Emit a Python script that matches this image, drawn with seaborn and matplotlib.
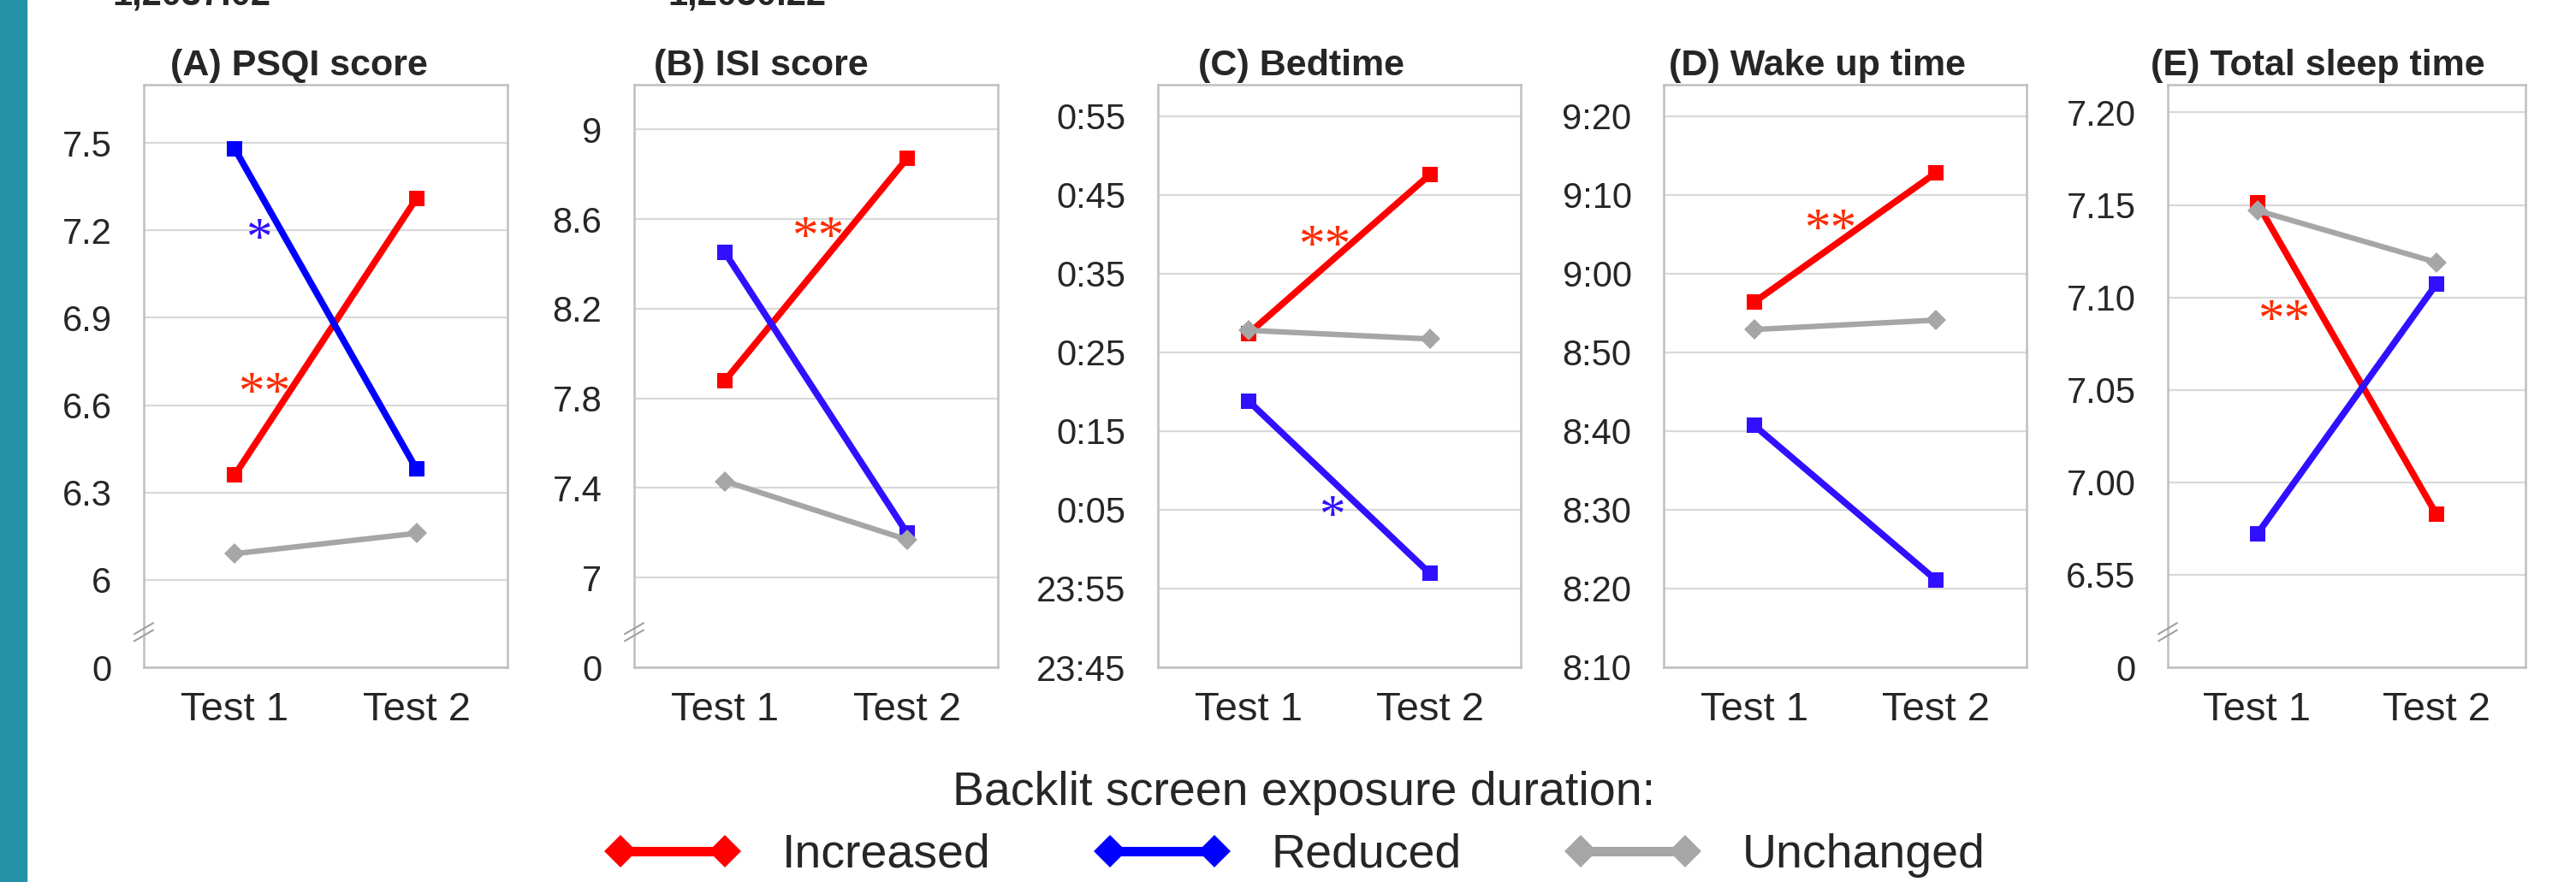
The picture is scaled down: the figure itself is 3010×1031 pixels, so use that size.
import pandas as pd
import seaborn as sns
import matplotlib.pyplot as plt
from matplotlib.lines import Line2D
from matplotlib.patches import Rectangle

# data
tests = ["Test 1", "Test 2"]
groups = ["Increased", "Reduced", "Unchanged"]

# one row per group: [Test 1, Test 2]
psqi = [[6.36, 7.31], [7.48, 6.38], [6.09, 6.16]]
isi = [[7.88, 8.87], [8.45, 7.20], [7.43, 7.17]]
bedtime = [[27.4, 47.6], [18.8, -3.1], [27.8, 26.7]]      # minutes after midnight
wakeup = [[536.4, 552.8], [520.7, 501.1], [532.9, 534.1]]  # minutes after midnight
sleep_time = [[7.151, 6.983], [6.972, 7.107], [7.147, 7.119]]

titles = ["(A) PSQI score", "(B) ISI score", "(C) Bedtime", "(D) Wake up time", "(E) Total sleep time"]

psqi_ticks = [5.7, 6.0, 6.3, 6.6, 6.9, 7.2, 7.5]
psqi_labels = ["0", "6", "6.3", "6.6", "6.9", "7.2", "7.5"]
isi_ticks = [6.6, 7.0, 7.4, 7.8, 8.2, 8.6, 9.0]
isi_labels = ["0", "7", "7.4", "7.8", "8.2", "8.6", "9"]
bed_ticks = [-15, -5, 5, 15, 25, 35, 45, 55]
bed_labels = ["23:45", "23:55", "0:05", "0:15", "0:25", "0:35", "0:45", "0:55"]
wake_ticks = [490, 500, 510, 520, 530, 540, 550, 560]
wake_labels = ["8:10", "8:20", "8:30", "8:40", "8:50", "9:00", "9:10", "9:20"]
tst_ticks = [6.90, 6.95, 7.00, 7.05, 7.10, 7.15, 7.20]
tst_labels = ["0", "6.55", "7.00", "7.05", "7.10", "7.15", "7.20"]

# significance marks: (panel, x, y, text, group)
stars = [
    (0, 0.13, 7.21, "*", "Reduced"),
    (0, 0.16, 6.68, "**", "Increased"),
    (1, 0.51, 8.57, "**", "Increased"),
    (2, 0.42, 40.0, "**", "Increased"),
    (2, 0.46, 5.6, "*", "Reduced"),
    (3, 0.42, 547, "**", "Increased"),
    (4, 0.15, 7.094, "**", "Increased"),
]

panels = [psqi, isi, bedtime, wakeup, sleep_time]
ticks = [psqi_ticks, isi_ticks, bed_ticks, wake_ticks, tst_ticks]
labels = [psqi_labels, isi_labels, bed_labels, wake_labels, tst_labels]
ylims = [(5.7, 7.7), (6.6, 9.2), (-15, 59), (490, 564), (6.90, 7.215)]
broken = [True, True, False, False, True]

# panel A uses a pure blue, the other panels a violet blue
reduced_blue = ["#0000FF", "#3010FF", "#3010FF", "#3010FF", "#3010FF"]
legend_colors = {"Increased": "#FF0000", "Reduced": "#0000FF", "Unchanged": "#A6A6A6"}
star_colors = {"Increased": "#FF2A00", "Reduced": "#3010FF"}

sns.set_style("white")
plt.rcParams['font.family'] = ['Liberation Sans', 'DejaVu Sans']

fig = plt.figure(figsize=(30.1, 10.31), dpi=100)
fig.patches.append(Rectangle((0, 0), 31 / 3010, 1, transform=fig.transFigure,
                             color="#2491A6", zorder=0))

lefts = [168, 741, 1353, 1944, 2533]
widths = [425, 425, 424, 424, 418]
title_x = [349, 889, 1521, 2123, 2708]
axes = []
for i, vals in enumerate(panels):
    ax = fig.add_axes([lefts[i] / 3010, 1 - 780 / 1031, widths[i] / 3010, 681 / 1031])
    axes.append(ax)
    df = pd.DataFrame({
        "test": tests * 3,
        "group": [g for g in groups for _ in tests],
        "value": [v for row in vals for v in row],
    })
    pal = {"Increased": "#FF0000", "Reduced": reduced_blue[i], "Unchanged": "#A6A6A6"}
    sns.lineplot(data=df, x="test", y="value", hue="group", style="group", size="group",
                 hue_order=groups, style_order=groups, size_order=groups,
                 palette=pal, sizes={"Increased": 5.5, "Reduced": 5.5, "Unchanged": 4.6},
                 markers={"Increased": "s", "Reduced": "s", "Unchanged": "D"},
                 dashes=False, markersize=12.5, markeredgewidth=0,
                 errorbar=None, legend=False, ax=ax)
    for ln in ax.lines:
        if ln.get_marker() == "D":
            ln.set_markersize(12.5)
    ax.set_xlim(-0.5, 1.5)
    ax.set_ylim(*ylims[i])
    ax.set_yticks(ticks[i])
    ax.set_yticklabels(labels[i])
    ax.set_xlabel("")
    ax.set_ylabel("")
    ax.grid(axis="y", color="#D9D9D9", lw=1.6)
    ax.set_axisbelow(True)
    ax.tick_params(axis="y", length=0, pad=27, labelsize=30)
    ax.tick_params(axis="x", length=0, pad=20, labelsize=34)
    for sp in ax.spines.values():
        sp.set_color("#BFBFBF")
        sp.set_linewidth(1.8)
    if broken[i]:
        for dy in (0.0, 0.012):
            ax.plot([-0.026, 0.026], [0.045 + dy, 0.064 + dy], transform=ax.transAxes,
                    color="#A0A0A0", lw=1.5, clip_on=False, zorder=5)
    fig.text(title_x[i] / 3010, 1 - 77 / 1031, titles[i], ha="center", va="center",
             fontsize=31, fontweight="bold")

for p, x, y, s, g in stars:
    axes[p].annotate(s, (x, y), xytext=(0, -11), textcoords="offset points",
                     ha="center", va="center", fontsize=44,
                     family=['Liberation Serif', 'DejaVu Serif'], color=star_colors[g])

# cut-off text at the top edge of the screenshot
fig.text(131 / 3010, 1 - 5 / 1031, "1,2037.02", va="baseline", fontsize=30,
         fontweight="bold")
fig.text(780 / 3010, 1 - 5 / 1031, "1,2050.22", va="baseline", fontsize=30,
         fontweight="bold")

fig.text(1524 / 3010, 1 - 927 / 1031, "Backlit screen exposure duration:",
         ha="center", va="center", fontsize=40)
handles = [Line2D([], [], color=legend_colors[g], lw=8, marker="D", markersize=19,
                  markeredgewidth=0) for g in groups]
fig.legend(handles, groups, loc="center", bbox_to_anchor=(0.503, 1 - 1000 / 1031),
           ncol=3, frameon=False, fontsize=40, handlelength=2.8, handletextpad=0.9,
           columnspacing=2.2, numpoints=2)

fig.savefig("out.png", dpi=100)
